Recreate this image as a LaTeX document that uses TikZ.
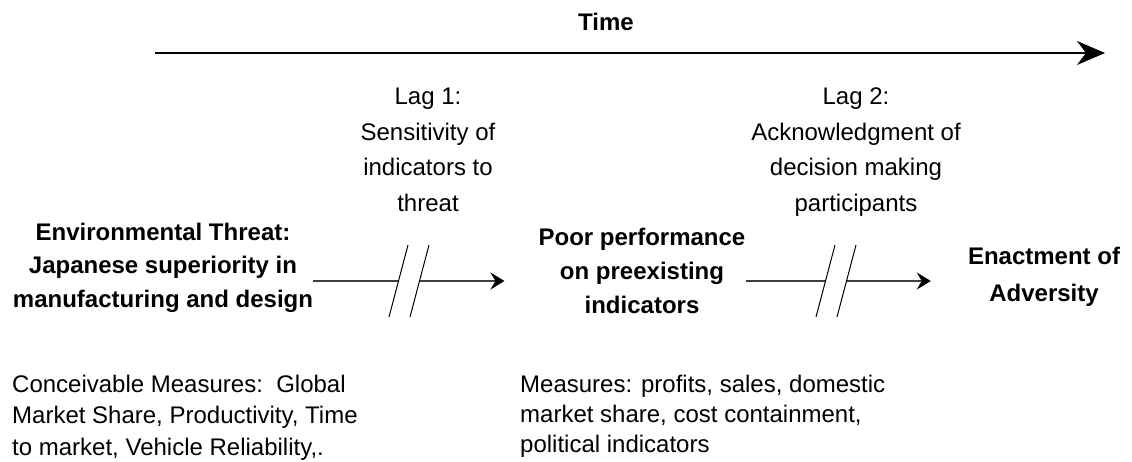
\documentclass[tikz,border=0pt]{standalone}
\usepackage{fontspec}
\setmainfont{Liberation Sans}
\usetikzlibrary{arrows.meta,positioning}

\begin{document}
\begin{tikzpicture}[
		x=1pt,y=-1pt,
		head/.style={
			font=\bfseries\fontsize{24}{33.5}\selectfont,
			align=center,
			anchor=north,
			inner sep=0pt
		},
		lag/.style={
			font=\fontsize{24}{35.5}\selectfont,
			align=center,
			anchor=north,
			inner sep=0pt
		},
		measure/.style={
			font=\fontsize{24}{31}\selectfont,
			align=left,
			anchor=north west,
			inner sep=0pt
		},
		flow/.style={
			draw=black!75,
			line width=1.5pt,
			-{Stealth[length=14pt,width=17pt,inset=5pt,black]}
		},
		brk/.style={draw=black,line width=1pt},
		timeline/.style={line width=1.5pt,-{Stealth[length=28pt,width=24pt,inset=9pt]}}
		]
		\useasboundingbox (0,0) rectangle (1132,462);
		% Time axis
		\node[head] (time) at (606,13) {Time};
		\coordinate (t0) at (155,53);
		\coordinate (t1) at (1105,53);
		\draw[timeline] (t0) -- (t1);
		% Lags
		\node[lag] (lag1) at (428,88) {Lag 1:\\Sensitivity of\\indicators to\\threat};
		\node[lag] (lag2) at (856,88) {Lag 2:\\Acknowledgment of\\decision making\\participants};
		% Stages
		\node[head] (threat) at (163,222.5) {Environmental Threat:\\Japanese superiority in\\manufacturing and design};
		\node[head,font=\bfseries\fontsize{24}{34}\selectfont] (poor) at (642,227.5) {Poor performance\\on preexisting\\indicators};
		\node[head,font=\bfseries\fontsize{24}{37}\selectfont] (enact) at (1044,247) {Enactment of\\Adversity};
		% Measures
		\node[measure,font=\fontsize{24}{31.5}\selectfont] (conc) at (12,374.5) {Conceivable Measures:\ \ Global\\Market Share, Productivity, Time\\to market, Vehicle Reliability,.};
		\node[measure,font=\fontsize{24}{30}\selectfont] (meas) at (520,374.5) {Measures: profits, sales, domestic\\market share, cost containment,\\political indicators};
		% Arrows with breaks
		\coordinate (brk1) at (409,281);
		\coordinate (brk2) at (836,281);
		\foreach \b/\src/\dst/\gap in {brk1/threat/poor/34,brk2/poor/enact/37}
		{
			\draw[flow,shorten >=\gap pt] (\src.east |- \b) -- ([xshift=-10.5]\b) ([xshift=10.5]\b) -- (\dst.west |- \b);
			\foreach \s in {-10.5,10.5}
				\draw[brk] ([shift={(\s-9.5,36)}]\b) -- ([shift={(\s+9.5,-36)}]\b);
		}
\end{tikzpicture}
\end{document}
